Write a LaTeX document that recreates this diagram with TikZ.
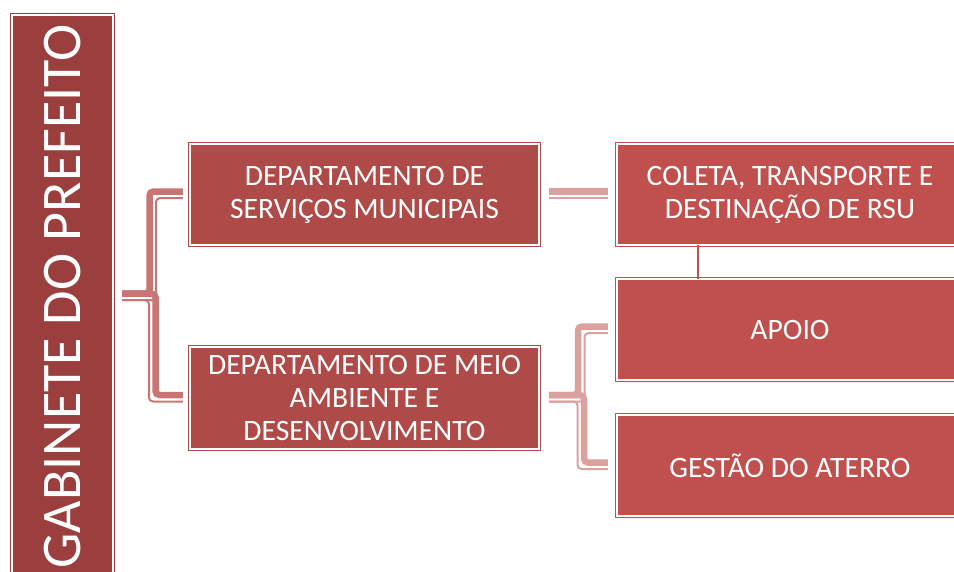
\documentclass[tikz,border=0pt]{standalone}
\usepackage{fontspec}
\setmainfont{Carlito}
\usepackage{tikz}
\definecolor{gabred}{RGB}{154,63,62}
\definecolor{depred}{RGB}{174,74,71}
\definecolor{secred}{RGB}{192,80,77}
\definecolor{lnkdark}{RGB}{201,117,115}
\definecolor{lnklight}{RGB}{218,161,159}
\tikzset{
	orgbox/.style={draw=#1, fill=#1, double=white, double distance=1.5pt, line width=1.1pt,
		text=white, align=center, inner sep=0pt, outer sep=0pt,
		font=\fontsize{29.6}{33}\selectfont},
	wideline/.style={line width=6.5pt, rounded corners=4pt},
	narrowline/.style={line width=2pt, rounded corners=4pt},
}

\begin{document}
\begin{tikzpicture}[x=1pt,y=-1pt]
%		\draw [help lines] (0,0) grid (954,571);
		\useasboundingbox (0,0) rectangle (954,571);
		\node [orgbox=gabred, rotate=90, minimum width=563.3pt, minimum height=101.3pt, font=\fontsize{56}{60}\selectfont] (gab) at (62.5,296.5) {GABINETE DO PREFEITO};
		\node [orgbox=depred, minimum width=349.3pt, minimum height=101.3pt] (dsm) at (364.5,194.5) {DEPARTAMENTO DE\\SERVIÇOS MUNICIPAIS};
		\node [orgbox=depred, minimum width=349.3pt, minimum height=102.3pt] (dma) at (364.5,398) {DEPARTAMENTO DE MEIO\\AMBIENTE E\\DESENVOLVIMENTO};
		\node [orgbox=secred, minimum width=346.3pt, minimum height=101.3pt] (col) at (790,194.5) {COLETA, TRANSPORTE E\\DESTINAÇÃO DE RSU};
		\node [orgbox=secred, minimum width=346.3pt, minimum height=101.3pt] (apo) at (790,329.5) {APOIO};
		\node [orgbox=secred, minimum width=346.3pt, minimum height=101.3pt] (ges) at (790,465.5) {GESTÃO DO ATERRO};
		\coordinate (jl) at (152.5,296.5);
		\coordinate (jr) at (581,398);
%		gabinete to departments
		\draw [lnkdark, wideline] ([xshift=9pt,yshift=3pt]gab.south) -| ([xshift=-3pt,yshift=3pt]jl |- dsm.west) -- ([xshift=-7pt,yshift=3pt]dsm.west);
		\draw [lnkdark, narrowline] ([xshift=9pt,yshift=-3.5pt]gab.south) -| ([xshift=3.5pt,yshift=-3.5pt]jl |- dsm.west) -- ([xshift=-7pt,yshift=-3.5pt]dsm.west);
		\draw [lnkdark, wideline] ([xshift=9pt,yshift=3pt]gab.south) -| ([xshift=3pt,yshift=3pt]jl |- dma.west) -- ([xshift=-7pt,yshift=3pt]dma.west);
		\draw [lnkdark, narrowline] ([xshift=9pt,yshift=-3.5pt]gab.south) -| ([xshift=-3.5pt,yshift=-3.5pt]jl |- dma.west) -- ([xshift=-7pt,yshift=-3.5pt]dma.west);
%		departments to sections
		\draw [lnklight, wideline] ([xshift=10pt,yshift=3pt]dsm.east) -- ([xshift=-9pt,yshift=3pt]col.west);
		\draw [lnklight, narrowline] ([xshift=10pt,yshift=-3.5pt]dsm.east) -- ([xshift=-9pt,yshift=-3.5pt]col.west);
		\draw [lnklight, wideline] ([xshift=10pt,yshift=3pt]dma.east) -| ([xshift=-3pt,yshift=3pt]jr |- apo.west) -- ([xshift=-9pt,yshift=3pt]apo.west);
		\draw [lnklight, narrowline] ([xshift=10pt,yshift=-3.5pt]dma.east) -| ([xshift=3.5pt,yshift=-3.5pt]jr |- apo.west) -- ([xshift=-9pt,yshift=-3.5pt]apo.west);
		\draw [lnklight, wideline] ([xshift=10pt,yshift=3pt]dma.east) -| ([xshift=3pt,yshift=3pt]jr |- ges.west) -- ([xshift=-9pt,yshift=3pt]ges.west);
		\draw [lnklight, narrowline] ([xshift=10pt,yshift=-3.5pt]dma.east) -| ([xshift=-3.5pt,yshift=-3.5pt]jr |- ges.west) -- ([xshift=-9pt,yshift=-3.5pt]ges.west);
		\draw [secred, line width=1.8pt] ([xshift=-92pt]col.south) -- ([xshift=-92pt]apo.north);
\end{tikzpicture}
\end{document}
